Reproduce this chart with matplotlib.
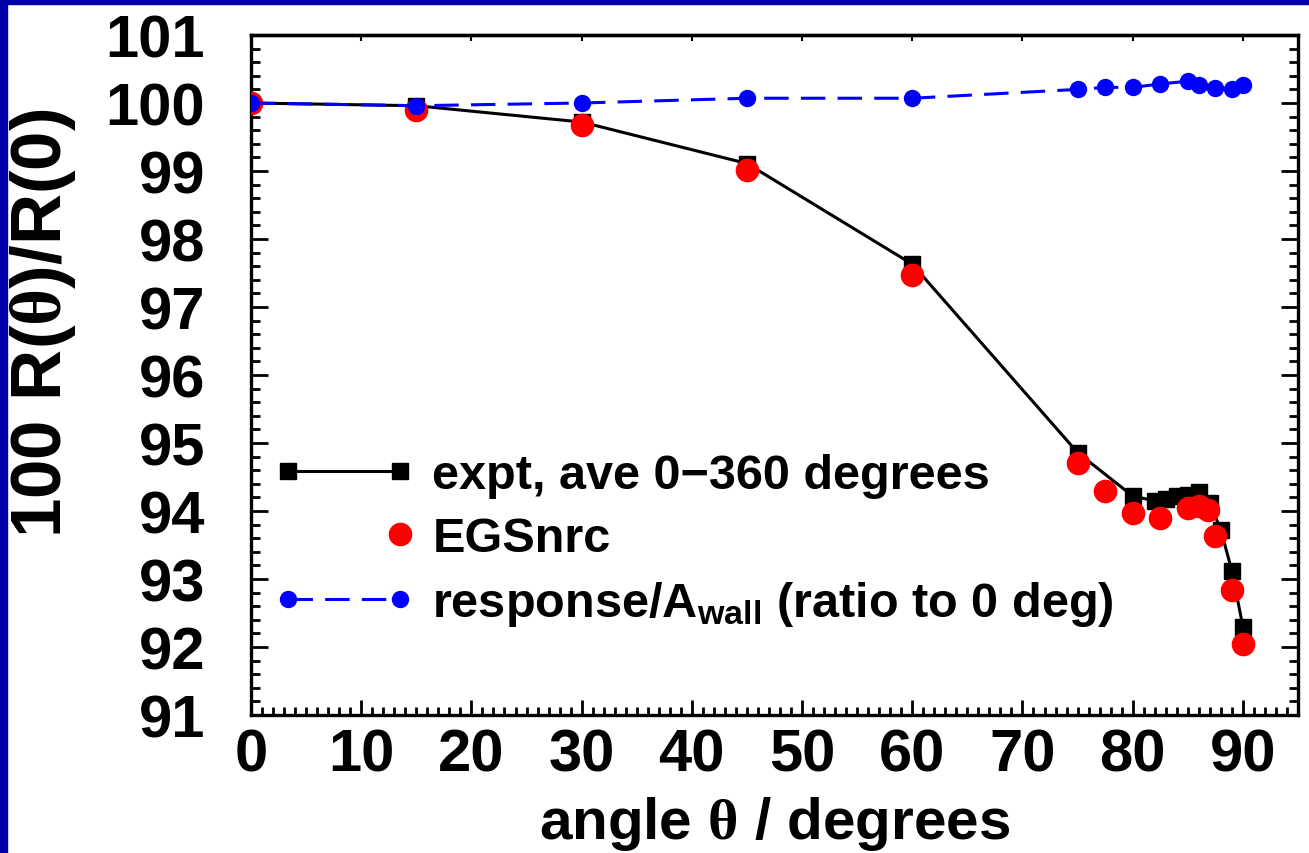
import matplotlib
matplotlib.use("Agg")
import matplotlib.pyplot as plt
from matplotlib.ticker import MultipleLocator
from matplotlib.legend_handler import HandlerLine2D
from matplotlib.patches import Rectangle

# data
angle_expt = [0, 15, 30, 45, 60, 75, 80, 82, 83, 84, 85, 86, 87, 88, 89, 90]
r_expt = [100.0, 99.96, 99.72, 99.11, 97.63, 94.86, 94.22, 94.15, 94.18,
          94.22, 94.24, 94.28, 94.12, 93.72, 93.12, 92.30]

angle_egs = [0, 15, 30, 45, 60, 75, 77.5, 80, 82.5, 85, 86, 86.8, 87.5, 89, 90]
r_egs = [100.0, 99.89, 99.67, 99.02, 97.47, 94.70, 94.30, 93.97, 93.90,
         94.05, 94.08, 94.01, 93.63, 92.84, 92.05]

angle_wall = [0, 15, 30, 45, 60, 75, 77.5, 80, 82.5, 85, 86, 87.5, 89, 90]
r_wall = [100.0, 99.96, 100.0, 100.07, 100.07, 100.20, 100.23, 100.23,
          100.28, 100.32, 100.27, 100.22, 100.21, 100.27]

labels = ['expt, ave 0\u2212360 degrees', 'EGSnrc',
          r'response/A$_{\rm wall}$ (ratio to 0 deg)']

fam = ['Liberation Sans', 'DejaVu Sans']
plt.rcParams['font.family'] = fam
plt.rcParams['font.weight'] = 'bold'
plt.rcParams['mathtext.fontset'] = 'custom'
plt.rcParams['mathtext.rm'] = 'Liberation Sans:bold'
plt.rcParams['mathtext.sf'] = 'Liberation Serif'
plt.rcParams['mathtext.default'] = 'rm'


class RightMarker(HandlerLine2D):
    # only the right hand marker, no line
    def create_artists(self, *args, **kw):
        arts = super().create_artists(*args, **kw)
        for a in arts:
            a.set_markevery([1])
        return arts


fig = plt.figure(figsize=(13.09, 8.54), dpi=100)
ax = fig.add_axes([251 / 1309, 138 / 854, 1047 / 1309, 680 / 854])

ax.plot(angle_expt, r_expt, '-', color='black', lw=2.2, marker='s', ms=12,
        label=labels[0], zorder=2)
egs, = ax.plot(angle_egs, r_egs, ls='none', marker='o', color='red', ms=16,
               label=labels[1], zorder=3)
ax.plot(angle_wall, r_wall, color='blue', lw=2.2, dashes=(8, 4), marker='o',
        ms=11.5, label=labels[2], zorder=4)

ax.set_xlim(0, 95)
ax.set_ylim(91, 101)
ax.xaxis.set_major_locator(MultipleLocator(10))
ax.xaxis.set_minor_locator(MultipleLocator(1))
ax.yaxis.set_major_locator(MultipleLocator(1))
ax.yaxis.set_minor_locator(MultipleLocator(0.2))

ax.tick_params(axis='both', which='both', direction='in', width=2)
ax.tick_params(axis='y', which='major', length=12, right=True, labelsize=43, pad=33)
ax.tick_params(axis='y', which='minor', length=6.5, right=True)
ax.tick_params(axis='x', which='major', length=11, labelsize=43, pad=9)
ax.tick_params(axis='x', which='minor', length=5.5)
for s in ax.spines.values():
    s.set_linewidth(2.4)

# top axis carries only small major ticks
top = ax.secondary_xaxis('top')
top.xaxis.set_major_locator(MultipleLocator(10))
top.tick_params(direction='in', length=4, width=1.5, labeltop=False)
top.spines['top'].set_linewidth(2.4)

ax.set_xlabel('angle $\\mathsf{\\theta}$ / degrees', fontsize=42,
              fontweight='bold', labelpad=8)
ax.set_ylabel('100 R($\\mathsf{\\theta}$)/R(0)', fontsize=51, fontweight='bold')
ax.yaxis.set_label_coords(-0.165, 0.578)

ax.legend(loc='upper left', bbox_to_anchor=(0.021, 0.385), frameon=False,
          fontsize=35, numpoints=2, handlelength=2.92, handletextpad=0.36,
          labelspacing=0.37, borderpad=0, borderaxespad=0,
          handler_map={egs: RightMarker()})

# dark blue frame on the left and top edges
fig.patches.append(Rectangle((0, 0), 7 / 1309, 1, transform=fig.transFigure,
                             color='#0000aa', zorder=10))
fig.patches.append(Rectangle((0, 1 - 5 / 854), 1, 5 / 854, transform=fig.transFigure,
                             color='#0000aa', zorder=10))

fig.savefig('out.png', dpi=100)
